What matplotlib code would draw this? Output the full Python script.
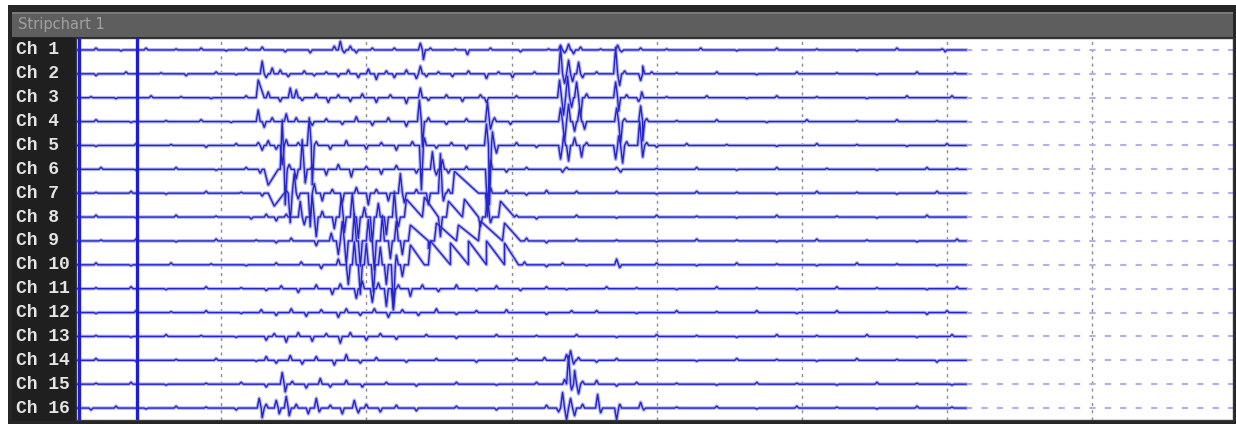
import matplotlib
matplotlib.use("Agg")
import matplotlib.pyplot as plt
from matplotlib.patches import Rectangle

FS = 145          # samples per second
END = 889         # last recorded sample
WINDOW = 7.97     # seconds shown in the strip
LANE = 24         # uV between channel baselines
HW = 2            # default spike half width, samples

channels = [f"Ch {i}" for i in range(1, 17)]
markers = [3, 61]   # event marker samples

# events per channel: (sample, amplitude uV[, rise[, fall]])
ch1 = [(20, 2), (45, -1), (70, 2), (100, 1), (125, 2), (150, -1), (170, 2), (186, 3),
       (209, -2), (234, -3), (258, 4), (264, 9), (268, -3), (274, 4), (280, -3), (296, 2),
       (318, 2), (344, 7), (347, -10), (354, 2), (379, 1), (391, -5), (414, 2), (444, -2),
       (472, 1), (484, 5), (488, -3), (492, 6), (497, -4), (504, 3), (524, 1), (541, 5),
       (545, -2), (564, 2), (590, 1), (624, 2), (660, -1), (700, 2), (740, 1), (780, -1),
       (820, 2), (865, 1), (868, -2)]
ch2 = [(20, -2), (50, 2), (85, 1), (110, -2), (140, 2), (160, -1), (186, 13), (190, -4),
       (196, 6), (204, 4), (212, -3), (228, 3), (238, -2), (250, 2), (262, -3), (272, 4),
       (282, -4), (292, 5), (300, -6), (310, 3), (318, -4), (330, 4), (340, -5), (344, 8),
       (350, -3), (362, 2), (376, -3), (392, 3), (410, -5), (422, 2), (436, -4), (458, 2),
       (484, 27), (488, -10), (492, 14), (496, -8), (502, 12), (506, -4), (520, 2), (539, 27),
       (543, -12), (548, 3), (564, -7), (566, 8), (575, 2), (600, 1), (640, 2), (680, -1),
       (720, 2), (760, 1), (800, -1), (840, 2), (878, 1)]
ch3 = [(15, 1), (40, -1), (75, 2), (105, 1), (135, -1), (170, 2), (182, 18, 2, 6), (192, 6),
       (204, -4), (214, 10), (220, 8), (226, -3), (240, 4), (252, -5), (262, 3), (274, -4),
       (286, 4), (300, -5), (314, 3), (330, -6), (344, 10), (352, -3), (370, 3), (386, -4),
       (404, 3), (410, -5), (440, 2), (483, 18), (487, -18), (491, 22), (495, -10), (500, 16),
       (504, -20), (510, 4), (539, 16), (542, -14), (550, 3), (562, -4), (565, 6), (590, 1),
       (630, 2), (670, -1), (700, 2), (740, 1), (790, -1), (830, 2), (875, 2)]
ch4 = [(20, 2), (55, -1), (90, 1), (125, 2), (155, -1), (182, 12), (188, -6), (196, 4),
       (210, 8), (220, 4), (236, -4), (250, 3), (266, -3), (280, 5), (296, -4), (312, 4),
       (330, -5), (343, 22), (346, -26), (352, 4), (370, -3), (390, 3), (411, 20), (414, -8),
       (418, 4), (434, -3), (484, 14), (488, -20), (492, 18), (498, -10), (503, 14), (508, -8),
       (540, 14), (544, -22), (548, 3), (564, 16), (566, -20), (570, 3), (600, 1), (640, 2),
       (690, -1), (730, 2), (780, 1), (820, 2), (860, 1)]
ch5 = [(20, -1), (60, 2), (95, 1), (130, -2), (160, 2), (182, 3), (186, -5), (192, 5),
       (200, -4), (206, -20), (210, 6), (222, 3), (233, 28), (236, -40), (240, 4), (254, -4),
       (270, 5), (290, -4), (305, 3), (320, -5), (336, 4), (345, -45), (348, 8), (360, -3),
       (375, 3), (390, -4), (410, 22), (413, -60), (416, 14), (420, -8), (440, 3), (460, -2),
       (484, -14), (487, 10), (492, -16), (498, 8), (505, -12), (510, 3), (539, -14), (542, 10),
       (546, -18), (550, 4), (563, 25), (566, -12), (570, 3), (580, -2), (610, 2), (650, 1),
       (700, -1), (740, 2), (780, 1), (830, -1), (870, 2)]
ch6 = [(25, 2), (60, -1), (100, 2), (140, -1), (170, 2), (184, -4), (192, -16, 4, 10),
       (206, 50), (209, -36), (213, 5), (220, -10), (226, 30), (229, -14), (236, 4), (250, -6),
       (262, 5), (275, -8), (290, 3), (305, -5), (320, 4), (340, -4), (356, 18), (360, -6),
       (366, 10), (372, -4), (390, 3), (411, -40), (414, 10), (430, -3), (450, 2), (486, -3),
       (490, 2), (540, 2), (544, -3), (580, 1), (620, 2), (660, -1), (700, 2), (750, 1),
       (800, -1), (850, 2), (880, 1)]
ch7 = [(20, 1), (55, 2), (90, -1), (130, 2), (165, 1), (186, -3), (198, -13, 6, 10), (210, 3),
       (214, -30), (218, 20), (222, -6), (234, -34), (238, 10), (246, -8), (256, 4), (266, -10),
       (280, 6), (292, -12), (300, 4), (312, -8), (324, 20), (328, -10), (340, 4), (352, -12),
       (364, 40), (367, -8), (372, 4), (378, 22, 2, 24), (411, -24), (414, 6), (430, 3),
       (450, -2), (470, 3), (500, 2), (540, 2), (580, -1), (620, 2), (660, 1), (700, -1),
       (740, 2), (780, 1), (820, -1), (860, 2)]
ch8 = [(20, 2), (60, -1), (100, 2), (140, 1), (175, -2), (190, 3), (200, -4), (210, 3),
       (224, 16), (228, -8), (236, 22), (240, -20), (246, 6), (258, -12), (265, 20), (268, -16),
       (276, 24), (282, -22), (288, 10), (296, -26), (302, 14), (310, -18), (318, 26), (322, -10),
       (330, 18, 2, 16), (348, 20, 2, 14), (364, -20), (372, 16, 2, 14), (388, 18, 2, 14),
       (404, -10), (411, 24), (414, -6), (424, 16, 2, 14), (440, 2), (460, -2), (500, 2),
       (540, -1), (580, 2), (620, 1), (660, -1), (700, 2), (760, 1), (800, -1), (850, 2)]
ch9 = [(25, 1), (60, 2), (100, -1), (140, 2), (180, 1), (200, -2), (215, 3), (240, -5),
       (255, 8), (262, -14), (266, 20), (270, -24), (278, 28), (284, -26), (292, 22), (298, -30),
       (306, 26), (314, -18), (320, 20), (326, -14), (334, 16, 2, 18), (352, -8),
       (360, 18, 2, 20), (382, 16, 2, 20), (404, 20, 2, 22), (428, 18, 2, 16), (450, 3),
       (470, -2), (500, 2), (540, 1), (580, -1), (620, 2), (660, 1), (700, -1), (740, 2),
       (790, 1), (840, -1), (880, 2)]
ch10 = [(20, 2), (55, -1), (95, 2), (135, 1), (170, -1), (200, 2), (225, 3), (245, -4),
        (262, 6), (272, -20), (278, 24), (284, -30), (290, 22), (297, -28), (304, 18),
        (310, -20), (317, -44), (320, 10), (326, -12), (334, 20, 2, 14), (354, 24, 2, 20),
        (374, 22, 2, 18), (392, 24, 2, 18), (410, 24, 2, 18), (428, 22, 2, 14), (448, 3),
        (470, -2), (486, 2), (510, -1), (540, 6), (543, -3), (580, 2), (620, -1), (660, 2),
        (700, 1), (740, -1), (780, 2), (820, 1), (860, -1)]
ch11 = [(20, 1), (55, 2), (90, -1), (130, 2), (165, 1), (190, -2), (205, 3), (222, -4),
        (240, 4), (256, -6), (264, 5), (280, -10), (286, 8), (296, -14), (302, 6), (310, -18),
        (317, -22), (322, 4), (334, -8), (346, 4), (362, -3), (380, 4), (400, -2), (420, 3),
        (444, -2), (470, 2), (490, -1), (530, 2), (560, 1), (600, -1), (640, 2), (680, 1),
        (720, -1), (760, 2), (800, 1), (850, -1), (880, 2)]
ch12 = [(20, -1), (60, 2), (95, 1), (130, 2), (165, -1), (185, 3), (200, -3), (215, 4),
        (230, -4), (245, 3), (262, -5), (270, 4), (284, -3), (298, 4), (312, -5), (326, 3),
        (342, -3), (360, 4), (380, -2), (400, 2), (430, 3), (470, -2), (495, 2), (520, 2),
        (560, -1), (600, 2), (640, 1), (680, 2), (720, -1), (760, 2), (810, 1), (850, -2),
        (870, 2)]
ch13 = [(20, 1), (55, -1), (90, 2), (125, 1), (160, -1), (190, -4), (198, 3), (210, -6),
        (222, 4), (236, -5), (250, 3), (264, -7), (274, 4), (290, -4), (304, 3), (320, -3),
        (350, 2), (380, -2), (420, 2), (460, 1), (500, 2), (540, -1), (580, 2), (620, 1),
        (660, -1), (700, 2), (740, 1), (790, 2), (840, -1), (875, 2)]
ch14 = [(20, 2), (60, -1), (100, 1), (140, 2), (180, -1), (190, 4), (200, -3), (214, 5),
        (226, -4), (240, 4), (258, -5), (270, 6), (284, -3), (300, 3), (330, -2), (360, 2),
        (400, -2), (440, 2), (468, 3), (490, 6), (494, 10), (497, -4), (502, 3), (520, -2),
        (540, 2), (580, 1), (620, -1), (660, 2), (700, 1), (740, -1), (780, 2), (820, 1),
        (860, -2)]
ch15 = [(20, 1), (55, 2), (90, -1), (130, 1), (165, 2), (190, -3), (206, 12), (209, -8),
        (216, 3), (230, -4), (244, 6), (254, -3), (270, 4), (286, -3), (310, 2), (340, -2),
        (380, 2), (420, -1), (460, 2), (488, 5), (492, 29), (495, -6), (498, 14), (502, -10),
        (506, 3), (520, 4), (540, -2), (560, 2), (600, 1), (640, -1), (680, 2), (720, 1),
        (760, -1), (800, 2), (840, 1), (875, -1)]
ch16 = [(15, -2), (40, 2), (70, -1), (100, 2), (130, 1), (160, -2), (183, 10), (186, -10),
        (190, 4), (200, 8), (203, -6), (210, 12), (213, -8), (220, 4), (232, -6), (240, 10),
        (243, -4), (254, 3), (266, -6), (278, 8), (282, -5), (290, 4), (304, -4), (320, 3),
        (340, -3), (380, 2), (420, -2), (470, 3), (482, -4), (486, 16), (490, -12), (494, 10),
        (498, -8), (506, 4), (521, 14), (524, -5), (540, -12), (543, 4), (564, 6), (567, -2),
        (600, 1), (640, 2), (680, -1), (720, 2), (760, 1), (800, -1), (840, 2), (875, 1)]

traces = [ch1, ch2, ch3, ch4, ch5, ch6, ch7, ch8,
          ch9, ch10, ch11, ch12, ch13, ch14, ch15, ch16]


def build_trace(events):
    xs, ys = [0], [0]
    for ev in sorted(events):
        n, a = ev[0], ev[1]
        rise = ev[2] if len(ev) > 2 else HW
        fall = ev[3] if len(ev) > 3 else rise
        if xs[-1] > n and len(xs) > 1:
            # previous decay would end after this peak: cut it short
            xs.pop()
            ys.pop()
        elif xs[-1] < n - rise:
            xs.append(n - rise)
            ys.append(0)
        xs.append(n)
        ys.append(a)
        xs.append(n + fall)
        ys.append(0)
    xs.append(END)
    ys.append(0)
    return [x / FS for x in xs], ys


W, H = 1236, 424
fig = plt.figure(figsize=(W / 100, H / 100), dpi=100, facecolor="white")


def px_rect(x0, y0, x1, y1, color):
    fig.patches.append(Rectangle((x0 / W, 1 - y1 / H), (x1 - x0) / W, (y1 - y0) / H,
                                 transform=fig.transFigure, facecolor=color,
                                 edgecolor="none", zorder=0))


# window frame
px_rect(8, 5, W, H, "#262626")
px_rect(12, 12, 1233, 37, "#5e5e5e")
px_rect(12, 12, 1233, 14, "#7a7a7a")
px_rect(12, 38, 76, 421, "#1f1f1f")
fig.text(18 / W, 1 - 25 / H, "Stripchart 1", color="#a0a0a0", fontsize=10.5,
         va="center", ha="left", family="DejaVu Sans", zorder=2)

ax = fig.add_axes([76 / W, 1 - 420 / H, 1157 / W, 382 / H])
ax.set_zorder(5)
ax.set_facecolor("white")
ax.set_xlim(0, WINDOW)
ax.set_ylim(-15.5 * LANE, 0.5 * LANE)

for sec in range(1, 8):
    ax.axvline(sec, color="#8c8c8c", lw=1.0, ls=(0, (2.2, 3.0)), zorder=1)

for i, ev in enumerate(traces):
    base = -i * LANE
    xs, ys = build_trace(ev)
    yv = [base + y for y in ys]
    # soft halo under the trace, like the blurred screen capture
    ax.plot(xs, yv, color="#b4b4f0", lw=2.6, zorder=2.5, solid_joinstyle="round")
    ax.plot(xs, yv, color="#2424cc", lw=1.0, zorder=3, solid_joinstyle="miter")
    ax.hlines(base, END / FS, WINDOW, color="#b0b0ee", lw=1.5,
              linestyles=(0, (3.0, 4.4)), zorder=2)
    y_fig = 1 - (38 + (0.5 * LANE - base) * 382 / (16 * LANE)) / H
    fig.text(16 / W, y_fig, channels[i], color="#e4e4e4", fontsize=13,
             family="Liberation Mono", weight="bold", va="center", ha="left", zorder=2)

for m in markers:
    ax.axvline(m / FS, color="#1d1dd6", lw=2.4, zorder=4)

ax.set_xticks([])
ax.set_yticks([])
for s in ax.spines.values():
    s.set_color("#3a3a3a")
    s.set_linewidth(1.0)

fig.savefig("out.png", dpi=100, facecolor=fig.get_facecolor())
